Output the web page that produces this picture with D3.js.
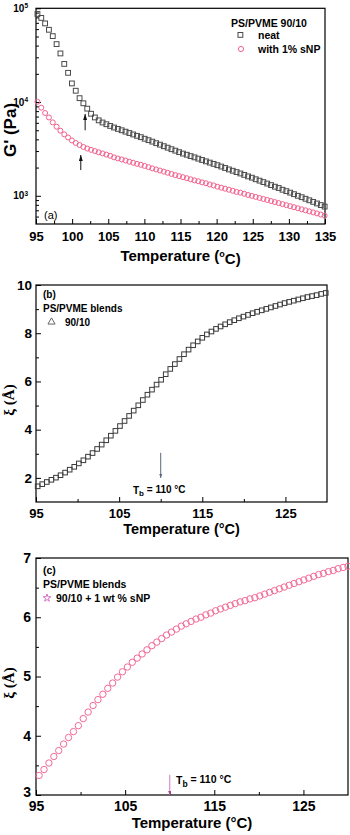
<!DOCTYPE html>
<html><head><meta charset="utf-8">
<script src="https://cdn.jsdelivr.net/npm/d3@7"></script>
<style>body{margin:0;background:#fff}svg{display:block}</style>
</head><body><svg id="c" width="350" height="835"></svg>
<script>
// ---------- DATA ----------
const tempA = [95.2,95.73,96.26,96.79,97.32,97.85,98.38,98.91,99.44,99.97,100.5,101.03,101.56,102.09,102.62,103.15,103.68,104.21,104.74,105.27,105.8,106.33,106.86,107.39,107.92,108.45,108.98,109.51,110.04,110.57,111.1,111.63,112.16,112.69,113.22,113.75,114.28,114.81,115.34,115.87,116.4,116.93,117.46,117.99,118.52,119.05,119.58,120.11,120.64,121.17,121.7,122.23,122.76,123.29,123.82,124.35,124.88,125.41,125.94,126.47,127,127.53,128.06,128.59,129.12,129.65,130.18,130.71,131.24,131.77,132.3,132.83,133.36,133.89,134.42,134.95];
const gNeat = [87000,79000,69000,59000,50500,41500,33000,25500,20500,15800,13200,11000,9700,8500,7500,6850,6380,6050,5800,5560,5350,5170,5000,4830,4670,4510,4360,4220,4060,3920,3780,3640,3510,3380,3260,3140,3030,2920,2820,2740,2650,2570,2490,2410,2330,2260,2190,2120,2050,1980,1910,1850,1790,1730,1670,1610,1560,1500,1450,1400,1350,1300,1250,1210,1160,1120,1080,1040,1000,966,929,895,861,828,796,767];
const gSNP = [10070,8710,7640,6850,6070,5460,4950,4520,4190,3890,3660,3480,3320,3190,3090,3000,2910,2830,2750,2670,2570,2500,2440,2380,2310,2250,2190,2140,2080,2020,1960,1910,1860,1810,1760,1710,1660,1620,1580,1540,1500,1460,1430,1390,1360,1320,1290,1250,1220,1190,1160,1130,1100,1080,1050,1020,998,973,948,925,902,879,857,836,815,794,774,755,736,718,700,682,665,649,631,614];

const tempB = [95.2,95.75,96.3,96.85,97.4,97.95,98.5,99.05,99.6,100.15,100.7,101.25,101.8,102.35,102.9,103.45,104,104.55,105.1,105.65,106.2,106.75,107.3,107.85,108.4,108.95,109.5,110.05,110.6,111.15,111.7,112.25,112.8,113.35,113.9,114.45,115,115.55,116.1,116.65,117.2,117.75,118.3,118.85,119.4,119.95,120.5,121.05,121.6,122.15,122.7,123.25,123.8,124.35,124.9,125.45,126,126.55,127.1,127.65,128.2,128.75,129.3,129.85];
const xiB = [1.65,1.74,1.83,1.92,2.01,2.11,2.22,2.34,2.46,2.60,2.73,2.88,3.03,3.20,3.38,3.56,3.75,3.95,4.15,4.36,4.57,4.79,5.01,5.23,5.45,5.66,5.87,6.07,6.30,6.52,6.72,6.93,7.13,7.32,7.50,7.66,7.81,7.95,8.07,8.18,8.28,8.37,8.46,8.54,8.62,8.69,8.76,8.83,8.89,8.95,9.01,9.07,9.13,9.19,9.25,9.30,9.35,9.40,9.45,9.50,9.54,9.58,9.63,9.67];

const tempC = [95.35,95.9,96.45,97,97.55,98.1,98.65,99.2,99.75,100.3,100.85,101.4,101.95,102.5,103.05,103.6,104.15,104.7,105.25,105.8,106.35,106.9,107.45,108,108.55,109.1,109.65,110.2,110.75,111.3,111.85,112.4,112.95,113.5,114.05,114.6,115.15,115.7,116.25,116.8,117.35,117.9,118.45,119,119.55,120.1,120.65,121.2,121.75,122.3,122.85,123.4,123.95,124.5,125.05,125.6,126.15,126.7,127.25,127.8,128.35,128.9,129.45,130];
const xiC = [3.33,3.43,3.54,3.65,3.75,3.86,3.97,4.07,4.17,4.29,4.40,4.51,4.61,4.70,4.80,4.89,4.99,5.08,5.16,5.24,5.31,5.38,5.45,5.52,5.58,5.64,5.70,5.75,5.80,5.85,5.89,5.93,5.97,6.00,6.04,6.07,6.11,6.14,6.17,6.20,6.23,6.26,6.28,6.31,6.33,6.36,6.39,6.42,6.45,6.48,6.51,6.54,6.57,6.60,6.63,6.66,6.69,6.72,6.74,6.77,6.79,6.82,6.84,6.86];

const xTicksA = [95,100,105,110,115,120,125,130,135];
const xMinorA = [97.5,102.5,107.5,112.5,117.5,122.5,127.5,132.5];
const yTicksA = [1e3,1e4,1e5];
const yMinorA = [600,700,800,900,2000,3000,4000,5000,6000,7000,8000,9000,20000,30000,40000,50000,60000,70000,80000,90000];
const xTicksBC = [95,105,115,125];
const xMinorBC = [100,110,120];
const yTicksB = [2,4,6,8,10];
const yMinorB = [3,5,7,9];
const yTicksC = [3,4,5,6,7];
const yMinorC = [3.5,4.5,5.5,6.5];

const legendA = ["PS/PVME 90/10","neat","with 1% sNP"];
const legendB = ["PS/PVME blends","90/10"];
const legendC = ["PS/PVME blends","90/10 + 1 wt % sNP"];

// ---------- DRAW ----------
const FONT = "'Liberation Sans', Arial, Helvetica, sans-serif";
const GRAY = "#4a4a4a", PINK = "#f2628f", PINKC = "#f26a96";
const svg = d3.select("#c").attr("font-family", FONT);
svg.append("rect").attr("width",350).attr("height",835).attr("fill","#fff");

const defs = svg.append("defs");
function arrowDef(id, color, w, l){
  defs.append("marker").attr("id",id).attr("viewBox",`0 0 ${l} ${w}`)
    .attr("refX",l).attr("refY",w/2).attr("markerWidth",l).attr("markerHeight",w)
    .attr("markerUnits","userSpaceOnUse").attr("orient","auto")
    .append("path").attr("d",`M0,0L${l},${w/2}L0,${w}Z`).attr("fill",color);
}
arrowDef("ahK","#111",4,6);
arrowDef("ahB","#56677c",3,4);
arrowDef("ahP","#b0409a",3,4);

function axes(g, x, y, o){
  const [x0,x1] = x.range(), [y0,y1] = y.range();
  const bx = g.append("g").attr("transform",`translate(0,${y0})`)
    .call(d3.axisBottom(x).tickValues(o.xt).tickSizeInner(-5).tickSizeOuter(0).tickPadding(o.xpad));
  bx.selectAll("text").attr("font-size",o.xfs).attr("font-weight","bold").attr("fill","#000");
  g.append("g").attr("transform",`translate(0,${y0})`)
    .call(d3.axisBottom(x).tickValues(o.xm).tickSize(-3).tickFormat(""));
  const ly = g.append("g").attr("transform",`translate(${x0},0)`)
    .call(d3.axisLeft(y).tickValues(o.yt).tickSizeInner(-5).tickSizeOuter(0).tickPadding(o.ypad).tickFormat(o.yfmt || (d=>d)));
  ly.selectAll("text").attr("font-size",o.yfs).attr("font-weight","bold").attr("fill","#000");
  g.append("g").attr("transform",`translate(${x0},0)`)
    .call(d3.axisLeft(y).tickValues(o.ym).tickSize(-3).tickFormat(""));
  g.selectAll(".domain").remove();
  g.selectAll(".tick line").attr("stroke","#000").attr("stroke-width",1);
  g.append("rect").attr("x",x0).attr("y",y1).attr("width",x1-x0).attr("height",y0-y1)
    .attr("fill","none").attr("stroke","#000").attr("stroke-width",1.2);
  return ly;
}

// ===== Panel (a) =====
const xA = d3.scaleLinear().domain([95,135]).range([36,325]);
const yA = d3.scaleLog().domain([500,1e5]).range([224,8.3]);
const gA = svg.append("g");
const lyA = axes(gA, xA, yA, {xt:xTicksA, xm:xMinorA, xpad:8, xfs:13, yt:yTicksA, ym:yMinorA, ypad:8, yfs:10});
lyA.selectAll(".tick text").each(function(d){
  const t = d3.select(this); t.text("10");
  t.append("tspan").attr("dy","-0.55em").attr("font-size","6.5px").text(Math.round(Math.log10(d)));
});
gA.append("g").selectAll("rect").data(tempA.map((t,i)=>[t,gNeat[i]])).join("rect")
  .attr("x",d=>xA(d[0])-2.4).attr("y",d=>yA(d[1])-2.4).attr("width",4.8).attr("height",4.8)
  .attr("fill","none").attr("stroke",GRAY).attr("stroke-width",1);
gA.append("g").selectAll("circle").data(tempA.map((t,i)=>[t,gSNP[i]])).join("circle")
  .attr("cx",d=>xA(d[0])).attr("cy",d=>yA(d[1])).attr("r",2.5)
  .attr("fill","none").attr("stroke",PINK).attr("stroke-width",1);
const arrowsA = [[101.8,5000,7450],[101.2,1880,2720]];
arrowsA.forEach(a=>{
  gA.append("line").attr("x1",xA(a[0])).attr("x2",xA(a[0])).attr("y1",yA(a[1])).attr("y2",yA(a[2]))
    .attr("stroke","#111").attr("stroke-width",1).attr("marker-end","url(#ahK)");
});
gA.append("text").attr("x",231).attr("y",27).attr("font-size",10.5).attr("font-weight","bold").text(legendA[0]);
gA.append("rect").attr("x",238).attr("y",32.5).attr("width",4.8).attr("height",4.8).attr("fill","none").attr("stroke",GRAY);
gA.append("text").attr("x",258).attr("y",39).attr("font-size",10.5).attr("font-weight","bold").text(legendA[1]);
gA.append("circle").attr("cx",241).attr("cy",49).attr("r",2.6).attr("fill","none").attr("stroke",PINK);
gA.append("text").attr("x",258).attr("y",53).attr("font-size",10.5).attr("font-weight","bold").text(legendA[2]);
gA.append("text").attr("x",44).attr("y",219).attr("font-size",11).text("(a)");
const tA = gA.append("text").attr("x",(36+325)/2).attr("y",261).attr("text-anchor","middle")
  .attr("font-size",15).attr("font-weight","bold");
tA.append("tspan").text("Temperature (");
tA.append("tspan").attr("dy","-0.5em").attr("font-size","9px").text("o");
tA.append("tspan").attr("dy","0.5em").text("C)");
gA.append("text").attr("transform","translate(16,130) rotate(-90)").attr("text-anchor","middle")
  .attr("font-size",17).attr("font-weight","bold").text("G' (Pa)");

// ===== Panel (b) =====
const xB = d3.scaleLinear().domain([95,130]).range([36,327]);
const yB = d3.scaleLinear().domain([1,10]).range([502,285]);
const gB = svg.append("g");
axes(gB, xB, yB, {xt:xTicksBC, xm:xMinorBC, xpad:6.5, xfs:13, yt:yTicksB, ym:yMinorB, ypad:4, yfs:13.5});
gB.append("g").selectAll("rect").data(tempB.map((t,i)=>[t,xiB[i]])).join("rect")
  .attr("x",d=>xB(d[0])-2.3).attr("y",d=>yB(d[1])-2.3).attr("width",4.6).attr("height",4.6)
  .attr("fill","none").attr("stroke","#3a3a3a").attr("stroke-width",1);
gB.append("text").attr("x",43).attr("y",298).attr("font-size",10).attr("font-weight","bold").text("(b)");
gB.append("text").attr("x",43).attr("y",312).attr("font-size",10).attr("font-weight","bold").text(legendB[0]);
gB.append("path").attr("d",d3.symbol(d3.symbolTriangle,22)()).attr("transform","translate(51.5,322)")
  .attr("fill","none").attr("stroke","#555").attr("stroke-width",0.9);
gB.append("text").attr("x",65).attr("y",325.5).attr("font-size",10).attr("font-weight","bold").text(legendB[1]);
gB.append("line").attr("x1",xB(110)).attr("x2",xB(110)).attr("y1",yB(3.04)).attr("y2",yB(2.0))
  .attr("stroke","#56677c").attr("stroke-width",1).attr("marker-end","url(#ahB)");
const tbB = gB.append("text").attr("x",133).attr("y",494).attr("font-size",10).attr("font-weight","bold");
tbB.append("tspan").text("T");
tbB.append("tspan").attr("dy","0.3em").attr("font-size","8px").text("b");
tbB.append("tspan").attr("dy","-0.3em").text(" = 110 °C");
gB.append("text").attr("x",(36+327)/2).attr("y",534).attr("text-anchor","middle")
  .attr("font-size",14.5).attr("font-weight","bold").text("Temperature (°C)");
gB.append("text").attr("transform","translate(14,400) rotate(-90)").attr("text-anchor","middle")
  .attr("font-family","'Liberation Serif', 'Times New Roman', serif")
  .attr("font-size",15).attr("font-weight","bold").text("ξ (Å)");

// ===== Panel (c) =====
const xC = d3.scaleLinear().domain([95,130]).range([36,348]);
const yC = d3.scaleLinear().domain([3,7]).range([795,558]);
const gC = svg.append("g");
const lyC = axes(gC, xC, yC, {xt:xTicksBC, xm:xMinorBC, xpad:6, xfs:14, yt:yTicksC, ym:yMinorC, ypad:5, yfs:14});
lyC.selectAll(".tick text").filter(d=>d===3).attr("dy","0.1em");
gC.append("g").selectAll("circle").data(tempC.map((t,i)=>[t,xiC[i]])).join("circle")
  .attr("cx",d=>xC(d[0])).attr("cy",d=>yC(d[1])).attr("r",3.2)
  .attr("fill","none").attr("stroke",PINKC).attr("stroke-width",1);
gC.append("text").attr("x",43).attr("y",574).attr("font-size",10.5).attr("font-weight","bold").text("(c)");
gC.append("text").attr("x",43).attr("y",588).attr("font-size",10.5).attr("font-weight","bold").text(legendC[0]);
gC.append("path").attr("d",d3.symbol(d3.symbolStar,18)()).attr("transform","translate(47,598)")
  .attr("fill","none").attr("stroke","#d65fc0").attr("stroke-width",0.9);
gC.append("text").attr("x",56).attr("y",602).attr("font-size",10.5).attr("font-weight","bold").text(legendC[1]);
gC.append("line").attr("x1",xC(110)).attr("x2",xC(110)).attr("y1",yC(3.34)).attr("y2",yC(3.0))
  .attr("stroke","#d890d8").attr("stroke-width",1.2).attr("marker-end","url(#ahP)");
const tbC = gC.append("text").attr("x",176).attr("y",784).attr("font-size",10.5).attr("font-weight","bold");
tbC.append("tspan").text("T");
tbC.append("tspan").attr("dy","0.3em").attr("font-size","8.5px").text("b");
tbC.append("tspan").attr("dy","-0.3em").text(" = 110 °C");
gC.append("text").attr("x",(36+348)/2).attr("y",828).attr("text-anchor","middle")
  .attr("font-size",15).attr("font-weight","bold").text("Temperature (°C)");
gC.append("text").attr("transform","translate(14,683) rotate(-90)").attr("text-anchor","middle")
  .attr("font-family","'Liberation Serif', 'Times New Roman', serif")
  .attr("font-size",15).attr("font-weight","bold").text("ξ (Å)");
</script></body></html>
